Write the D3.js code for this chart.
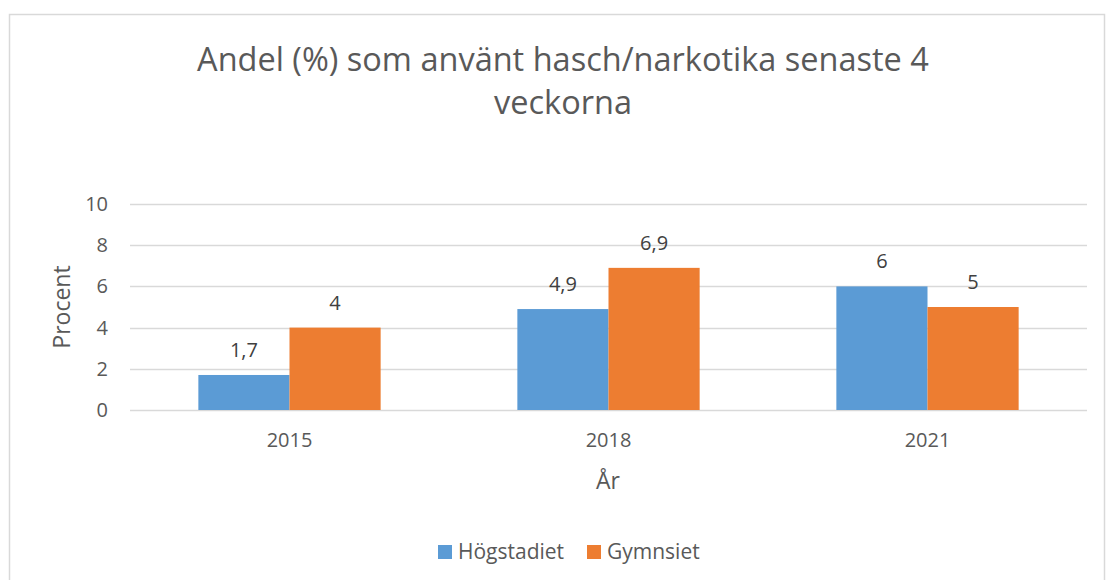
<!DOCTYPE html>
<html><head><meta charset="utf-8">
<script src="https://cdn.jsdelivr.net/npm/d3@7"></script>
<style>body{margin:0;background:#fff}svg{display:block}</style>
</head><body>
<script>
const categories = ["2015", "2018", "2021"];
const seriesNames = ["Högstadiet", "Gymnsiet"];
const hogstadiet = [1.7, 4.9, 6];
const gymnsiet = [4, 6.9, 5];
const yTicks = [0, 2, 4, 6, 8, 10];
const colors = ["#5B9BD5", "#ED7D31"];

const W = 1106, H = 580;
const font = "'Open Sans', 'Liberation Sans', sans-serif";
const svg = d3.select("body").append("svg").attr("width", W).attr("height", H);

svg.append("rect").attr("x", 9.5).attr("y", 14.5).attr("width", 1095).attr("height", 600)
  .attr("fill", "#fff").attr("stroke", "#d9d9d9").attr("stroke-width", 1.5);

const x0 = d3.scaleBand().domain(categories).range([130, 1087]).paddingInner(0).paddingOuter(0);
const y = d3.scaleLinear().domain([0, 10]).range([410, 204]);
const barW = x0.bandwidth() / 3.5;
const x1 = d3.scaleBand().domain(seriesNames).range([0, barW * 2]);

// gridlines
svg.append("g").selectAll("line").data(yTicks).join("line")
  .attr("x1", 130).attr("x2", 1087)
  .attr("y1", d => Math.round(y(d)) + 0.5).attr("y2", d => Math.round(y(d)) + 0.5)
  .attr("stroke", "#d9d9d9").attr("stroke-width", 1.5);

// y tick labels
svg.append("g").selectAll("text").data(yTicks).join("text")
  .attr("x", 108).attr("y", d => y(d)).attr("dy", "0.35em")
  .attr("text-anchor", "end").attr("font-family", font).attr("font-size", 20)
  .attr("fill", "#595959").text(d => d);

const data = categories.map((c, i) => ({ cat: c, vals: [hogstadiet[i], gymnsiet[i]] }));
const fmt = v => String(v).replace(".", ",");

const groups = svg.append("g").selectAll("g").data(data).join("g")
  .attr("transform", d => `translate(${x0(d.cat) + (x0.bandwidth() - barW * 2) / 2},0)`);

groups.selectAll("rect").data(d => d.vals.map((v, j) => ({ v, s: seriesNames[j], j }))).join("rect")
  .attr("x", d => x1(d.s)).attr("width", x1.bandwidth())
  .attr("y", d => y(d.v)).attr("height", d => y(0) - y(d.v))
  .attr("fill", d => colors[d.j]);

groups.selectAll("text").data(d => d.vals.map((v, j) => ({ v, s: seriesNames[j], j }))).join("text")
  .attr("x", d => x1(d.s) + x1.bandwidth() / 2).attr("y", d => y(d.v) - 18)
  .attr("text-anchor", "middle").attr("font-family", font).attr("font-size", 20)
  .attr("fill", "#404040").text(d => fmt(d.v));

// x labels
svg.append("g").selectAll("text").data(categories).join("text")
  .attr("x", d => x0(d) + x0.bandwidth() / 2).attr("y", 440).attr("dy", "0.35em")
  .attr("text-anchor", "middle").attr("font-family", font).attr("font-size", 20)
  .attr("fill", "#595959").text(d => d);

// axis titles
svg.append("text").attr("x", 608).attr("y", 481).attr("dy", "0.35em")
  .attr("text-anchor", "middle").attr("font-family", font).attr("font-size", 23)
  .attr("fill", "#595959").text("År");
svg.append("text").attr("transform", "translate(62,307) rotate(-90)").attr("dy", "0.35em")
  .attr("text-anchor", "middle").attr("font-family", font).attr("font-size", 23)
  .attr("fill", "#595959").text("Procent");

// title
const title = svg.append("text").attr("text-anchor", "middle").attr("font-family", font)
  .attr("font-size", 32.5).attr("fill", "#595959");
title.append("tspan").attr("x", 563).attr("y", 71).text("Andel (%) som använt hasch/narkotika senaste 4");
title.append("tspan").attr("x", 563).attr("y", 114).text("veckorna");

// legend
const lg = svg.append("g");
const legendX = [438, 587];
seriesNames.forEach((s, i) => {
  lg.append("rect").attr("x", legendX[i]).attr("y", 545).attr("width", 14).attr("height", 14).attr("fill", colors[i]);
  lg.append("text").attr("x", legendX[i] + 20).attr("y", 552).attr("dy", "0.35em")
    .attr("font-family", font).attr("font-size", 21).attr("fill", "#595959").text(s);
});
</script>
</body></html>
